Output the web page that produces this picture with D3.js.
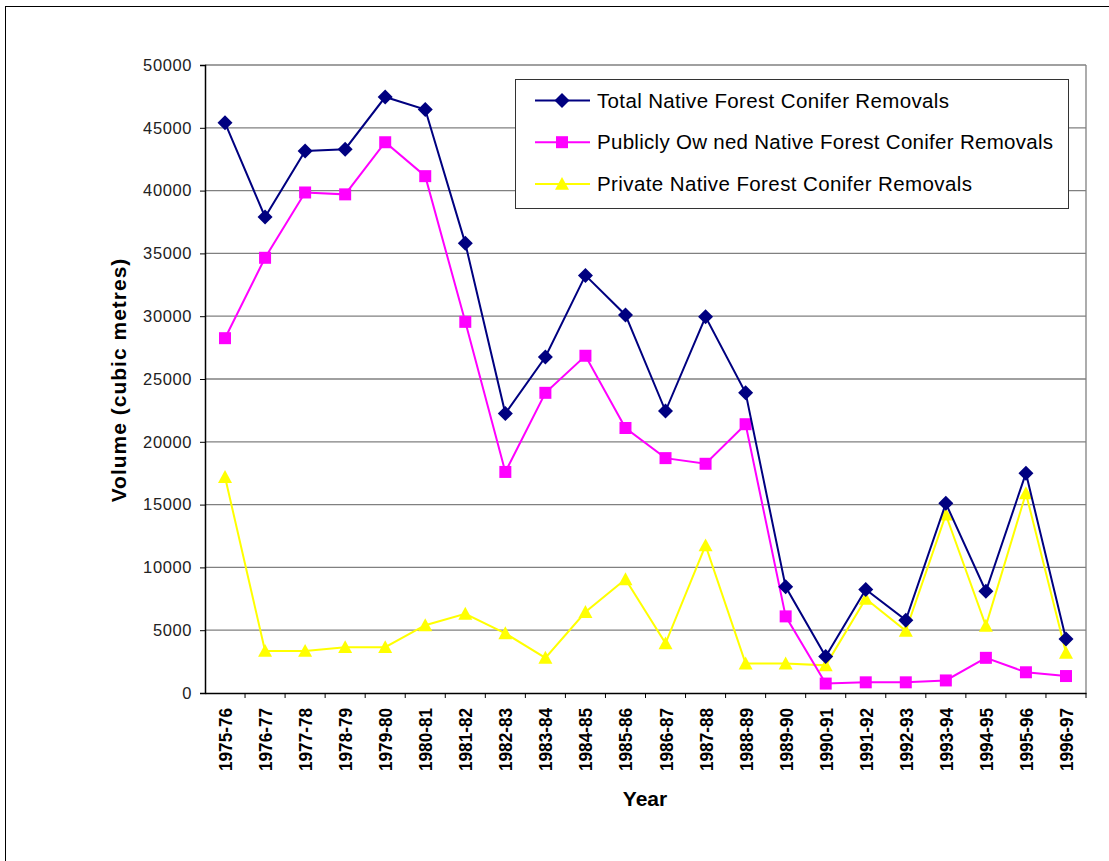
<!DOCTYPE html>
<html>
<head>
<meta charset="utf-8">
<script src="https://cdn.jsdelivr.net/npm/d3@7"></script>
<style>
  html, body { margin: 0; padding: 0; background: #fff; }
  svg { display: block; font-family: "Liberation Sans", Arial, sans-serif; }
</style>
</head>
<body>
<svg id="chart" width="1109" height="861"></svg>
<script>
// Native forest conifer removals by year (cubic metres)
const years = ["1975-76","1976-77","1977-78","1978-79","1979-80","1980-81","1981-82","1982-83",
  "1983-84","1984-85","1985-86","1986-87","1987-88","1988-89","1989-90","1990-91","1991-92",
  "1992-93","1993-94","1994-95","1995-96","1996-97"];
const totalRemovals = [45400,37900,43150,43300,47450,46450,35800,22250,26750,33250,30100,22450,
  29950,23900,8450,2900,8250,5800,15100,8100,17500,4300];
const publicRemovals = [28250,34650,39850,39700,43850,41150,29550,17600,23900,26850,21100,18700,
  18250,21400,6100,750,850,850,1000,2800,1650,1350];
const privateRemovals = [17200,3350,3350,3650,3650,5400,6300,4750,2800,6450,9050,3950,
  11750,2350,2350,2200,7500,4950,14200,5350,15900,3200];
const yTicks = [0,5000,10000,15000,20000,25000,30000,35000,40000,45000,50000];
const seriesNames = ["Total Native Forest Conifer Removals",
  "Publicly Ow ned Native Forest Conifer Removals",
  "Private Native Forest Conifer Removals"];

const svg = d3.select("#chart");

// outer chart frame
svg.append("rect").attr("x", 5.5).attr("y", 6.5).attr("width", 1200).attr("height", 1000)
  .attr("fill", "none").attr("stroke", "#000").attr("stroke-width", 1);

const plot = { left: 205, right: 1086, top: 65, bottom: 693 };

const x = d3.scaleBand().domain(years).range([plot.left, plot.right]);
const y = d3.scaleLinear().domain([0, 50000]).range([plot.bottom, plot.top]);

// gridlines
svg.append("g").selectAll("line").data(yTicks.filter(d => d > 0)).join("line")
  .attr("x1", plot.left).attr("x2", plot.right)
  .attr("y1", d => y(d)).attr("y2", d => y(d))
  .attr("stroke", "#808080").attr("stroke-width", 1.3);
// right edge of plot area
svg.append("line").attr("x1", plot.right).attr("x2", plot.right)
  .attr("y1", plot.top).attr("y2", plot.bottom)
  .attr("stroke", "#808080").attr("stroke-width", 1.3);

// y axis
const yAxis = svg.append("g").attr("transform", `translate(${plot.left},0)`)
  .call(d3.axisLeft(y).tickValues(yTicks).tickSize(5).tickPadding(8).tickFormat(d3.format("d")));
yAxis.select(".domain").attr("stroke", "#000").attr("stroke-width", 1.5);
yAxis.selectAll(".tick line").attr("stroke", "#000");
yAxis.selectAll("text").attr("font-size", 16.5).attr("fill", "#222")
  .attr("font-family", "'Liberation Sans', Arial, sans-serif").attr("letter-spacing", 0.6);

// x axis: ticks sit on category boundaries
const xAxis = svg.append("g").attr("transform", `translate(0,${plot.bottom})`)
  .call(d3.axisBottom(x).tickSize(0).tickFormat(""));
xAxis.select(".domain").attr("stroke", "#000").attr("stroke-width", 1.5);
xAxis.selectAll(".tick").remove();
const xAxisG = svg.append("g");
xAxisG.selectAll("line").data(years.slice(1)).join("line")
  .attr("x1", d => x(d)).attr("x2", d => x(d))
  .attr("y1", plot.bottom).attr("y2", plot.bottom + 5)
  .attr("stroke", "#000");
xAxisG.append("line").attr("x1", plot.right).attr("x2", plot.right)
  .attr("y1", plot.bottom).attr("y2", plot.bottom + 5).attr("stroke", "#000");
xAxisG.selectAll("text").data(years).join("text")
  .attr("transform", d => `translate(${x(d) + x.bandwidth() / 2 + 7},${plot.bottom + 15}) rotate(-90)`)
  .attr("text-anchor", "end")
  .attr("font-size", 19).attr("font-weight", "bold").attr("fill", "#000")
  .attr("textLength", 63).attr("lengthAdjust", "spacingAndGlyphs")
  .text(d => d);

// axis titles
svg.append("text").attr("x", 645).attr("y", 806).attr("text-anchor", "middle")
  .attr("font-size", 21).attr("font-weight", "bold").text("Year");
svg.append("text").attr("transform", "translate(126,380) rotate(-90)").attr("text-anchor", "middle")
  .attr("font-size", 21).attr("font-weight", "bold").attr("letter-spacing", 1)
  .text("Volume (cubic metres)");

// marker shapes
function diamondPath(s) { return `M0,${-s}L${s},0L0,${s}L${-s},0Z`; }
function squarePath(s) { return `M${-s},${-s}H${s}V${s}H${-s}Z`; }
function trianglePath(s) { return `M0,${-s}L${s},${s * 0.85}L${-s},${s * 0.85}Z`; }

const series = [
  { name: seriesNames[0], values: totalRemovals, color: "#000080", shape: () => diamondPath(7.5) },
  { name: seriesNames[1], values: publicRemovals, color: "#FF00FF", shape: () => squarePath(6) },
  { name: seriesNames[2], values: privateRemovals, color: "#FFFF00", shape: () => trianglePath(7) }
];

const line = d3.line().x((d, i) => x(years[i]) + x.bandwidth() / 2).y(d => y(d));

// draw private first so total sits on top
[2, 1, 0].forEach(k => {
  const s = series[k];
  const g = svg.append("g");
  g.append("path").attr("d", line(s.values)).attr("fill", "none")
    .attr("stroke", s.color).attr("stroke-width", 2);
  g.selectAll("path.m").data(s.values).join("path").attr("class", "m")
    .attr("transform", (d, i) => `translate(${x(years[i]) + x.bandwidth() / 2},${y(d)})`)
    .attr("d", s.shape()).attr("fill", s.color);
});

// legend
const legend = svg.append("g");
legend.append("rect").attr("x", 515.5).attr("y", 79.5).attr("width", 553).attr("height", 129)
  .attr("fill", "#fff").attr("stroke", "#333").attr("stroke-width", 1);
const legendWidths = [352, 456, 375];
series.forEach((s, i) => {
  const cy = 100.5 + i * 41.7;
  legend.append("line").attr("x1", 535).attr("x2", 590).attr("y1", cy).attr("y2", cy)
    .attr("stroke", s.color).attr("stroke-width", 2);
  legend.append("path").attr("transform", `translate(562,${cy})`).attr("d", s.shape()).attr("fill", s.color);
  legend.append("text").attr("x", 597).attr("y", cy + 7).attr("font-size", 20.5).attr("fill", "#000")
    .attr("textLength", legendWidths[i]).attr("lengthAdjust", "spacing")
    .text(s.name);
});
</script>
</body>
</html>
